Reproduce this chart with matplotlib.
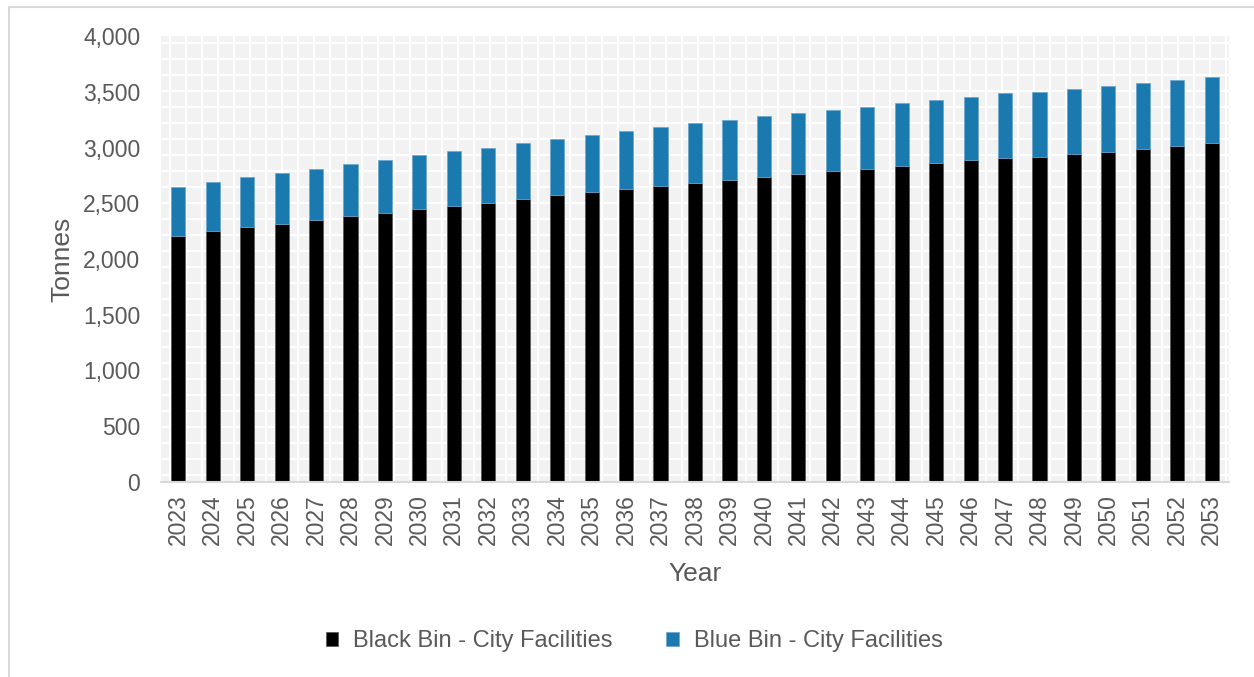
import numpy as np
import matplotlib
matplotlib.use('Agg')
import matplotlib.pyplot as plt
from matplotlib.collections import LineCollection
from matplotlib.patches import Rectangle

plt.rcParams['font.family'] = ['Liberation Sans', 'DejaVu Sans']

years = [str(y) for y in range(2023, 2054)]
black_bin = [2210, 2250, 2286, 2316, 2349, 2382, 2415, 2448, 2478, 2506,
             2538, 2571, 2601, 2628, 2655, 2682, 2709, 2739, 2763, 2787,
             2808, 2835, 2859, 2886, 2910, 2919, 2940, 2964, 2990, 3012, 3036]
total = [2650, 2694, 2739, 2775, 2811, 2853, 2892, 2934, 2967, 3000,
         3039, 3075, 3113, 3147, 3180, 3216, 3248, 3281, 3308, 3338,
         3365, 3395, 3425, 3455, 3485, 3494, 3521, 3551, 3578, 3608, 3636]
blue_bin = [t - b for t, b in zip(total, black_bin)]

text_col = '#595959'
W, H = 1254, 677
fig = plt.figure(figsize=(W / 100, H / 100), dpi=100)

# outer frame
fig.patches.append(Rectangle((8.5 / W, -0.1), 2, 1.1 - 7 / H, transform=fig.transFigure,
                             fill=False, edgecolor='#D9D9D9', linewidth=1.5))

# plot area in pixels: left 161, right 1229, top 36, bottom 482
l, r, t, b = 161, 1229, 36, 482
ax = fig.add_axes([l / W, 1 - b / H, (r - l) / W, (b - t) / H])
ax.set_facecolor('#F2F2F2')

# pattern fill (small grid) of the plot area
pw, ph = r - l, b - t
segs = []
for px in np.arange(169.5, r, 16):
    fx = (px - l) / pw
    segs.append([(fx, 0), (fx, 1)])
for py in np.arange(43.3, b, 16):
    fy = 1 - (py - t) / ph
    segs.append([(0, fy), (1, fy)])
ax.add_collection(LineCollection(segs, colors='white', linewidths=1.5,
                                 transform=ax.transAxes, zorder=0.5))

x = np.arange(len(years))
ax.bar(x, black_bin, width=0.41, color='black', edgecolor='#555555', linewidth=0.5,
       label='Black Bin - City Facilities', zorder=2)
ax.bar(x, blue_bin, bottom=black_bin, width=0.41, color='#1A7AB0', edgecolor='#6AA6CC',
       linewidth=0.5, label='Blue Bin - City Facilities', zorder=2)

ax.set_xlim(-0.5, len(years) - 0.5)
ax.set_ylim(0, 4000)
ax.set_yticks(range(0, 4001, 500))
ax.set_yticklabels([f'{v:,}' for v in range(0, 4001, 500)])
ax.set_xticks(x)
ax.set_xticklabels(years, rotation=90)
ax.tick_params(axis='y', length=0, pad=15, labelsize=16.5, labelcolor=text_col)
ax.tick_params(axis='x', length=0, pad=9, labelsize=16.5, labelcolor=text_col)

for s in ['top', 'right', 'left']:
    ax.spines[s].set_visible(False)
ax.spines['bottom'].set_color('#D9D9D9')
ax.spines['bottom'].set_linewidth(1.5)

ax.set_ylabel('Tonnes', fontsize=19, color=text_col, labelpad=6)
ax.set_xlabel('Year', fontsize=19, color=text_col, labelpad=12)

fig.legend(loc='center', bbox_to_anchor=(634 / W, 1 - 641 / H), ncol=2, frameon=False,
           fontsize=17, labelcolor=text_col, handlelength=0.55, handleheight=0.55,
           handletextpad=0.6, columnspacing=2.3)

fig.savefig('out.png', dpi=100)
